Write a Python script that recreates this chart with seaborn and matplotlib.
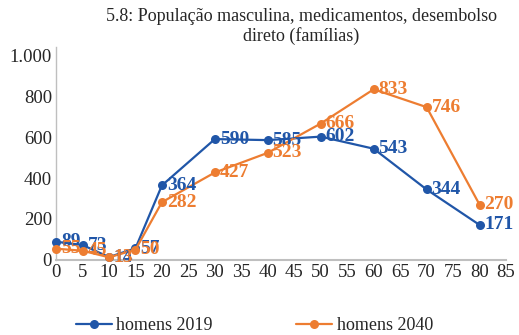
import matplotlib
matplotlib.use("Agg")
import matplotlib.pyplot as plt
import matplotlib.ticker as mticker
import seaborn as sns
import pandas as pd

ages = [0, 5, 10, 15, 20, 30, 40, 50, 60, 70, 80]
homens_2019 = [89, 73, 14, 57, 364, 590, 585, 602, 543, 344, 171]
homens_2040 = [55, 45, 13, 50, 282, 427, 523, 666, 833, 746, 270]
series_names = ["homens 2019", "homens 2040"]
colors = ["#2056a8", "#ed7d31"]
title = "5.8: População masculina, medicamentos, desembolso\ndireto (famílias)"

df = pd.concat([
    pd.DataFrame({"idade": ages, "valor": homens_2019, "serie": series_names[0]}),
    pd.DataFrame({"idade": ages, "valor": homens_2040, "serie": series_names[1]}),
])

sns.set_theme(style="white")
plt.rcParams["font.family"] = ["Liberation Serif", "DejaVu Serif"]

fig = plt.figure(figsize=(5.19, 3.35), dpi=100)
ax = fig.add_axes([0.108, 0.224, 0.867, 0.636])

sns.lineplot(data=df, x="idade", y="valor", hue="serie", palette=colors,
             marker="o", markersize=6.5, markeredgewidth=0, linewidth=1.6,
             ax=ax, legend=False, clip_on=False)

for name, vals, c in zip(series_names, [homens_2019, homens_2040], colors):
    for xv, yv in zip(ages, vals):
        ax.annotate(f"{yv}", (xv, yv), xytext=(3.5, 0), textcoords="offset points",
                    ha="left", va="center", color=c, fontsize=14, fontweight="bold")

ax.set_xlim(0, 85)
ax.set_ylim(0, 1040)
ax.set_xticks(range(0, 90, 5))
ax.set_yticks(range(0, 1001, 200))
ax.yaxis.set_major_formatter(mticker.FuncFormatter(lambda v, p: f"{int(v):,}".replace(",", ".")))
ax.tick_params(axis="both", labelsize=13.5, length=0, pad=3)
ax.set_xlabel("")
ax.set_ylabel("")
for s in ["top", "right"]:
    ax.spines[s].set_visible(False)
ax.spines["left"].set_color("#bfbfbf")
ax.spines["bottom"].set_color("#bfbfbf")
ax.spines["left"].set_linewidth(1)
ax.spines["bottom"].set_linewidth(1.5)
ax.spines["left"].set_zorder(0)
ax.spines["bottom"].set_zorder(0)

fig.text(0.58, 0.975, title, ha="center", va="top", fontsize=13, linespacing=1.15)

handles = [plt.Line2D([], [], color=c, marker="o", markersize=6.5, linewidth=1.6,
                      markeredgewidth=0) for c in colors]
fig.legend(handles, series_names, loc="lower center", bbox_to_anchor=(0.49, -0.045),
           ncol=2, frameon=False, fontsize=13, columnspacing=4.6, handlelength=2.0,
           handletextpad=0.25)

fig.savefig("out.png", dpi=100)
